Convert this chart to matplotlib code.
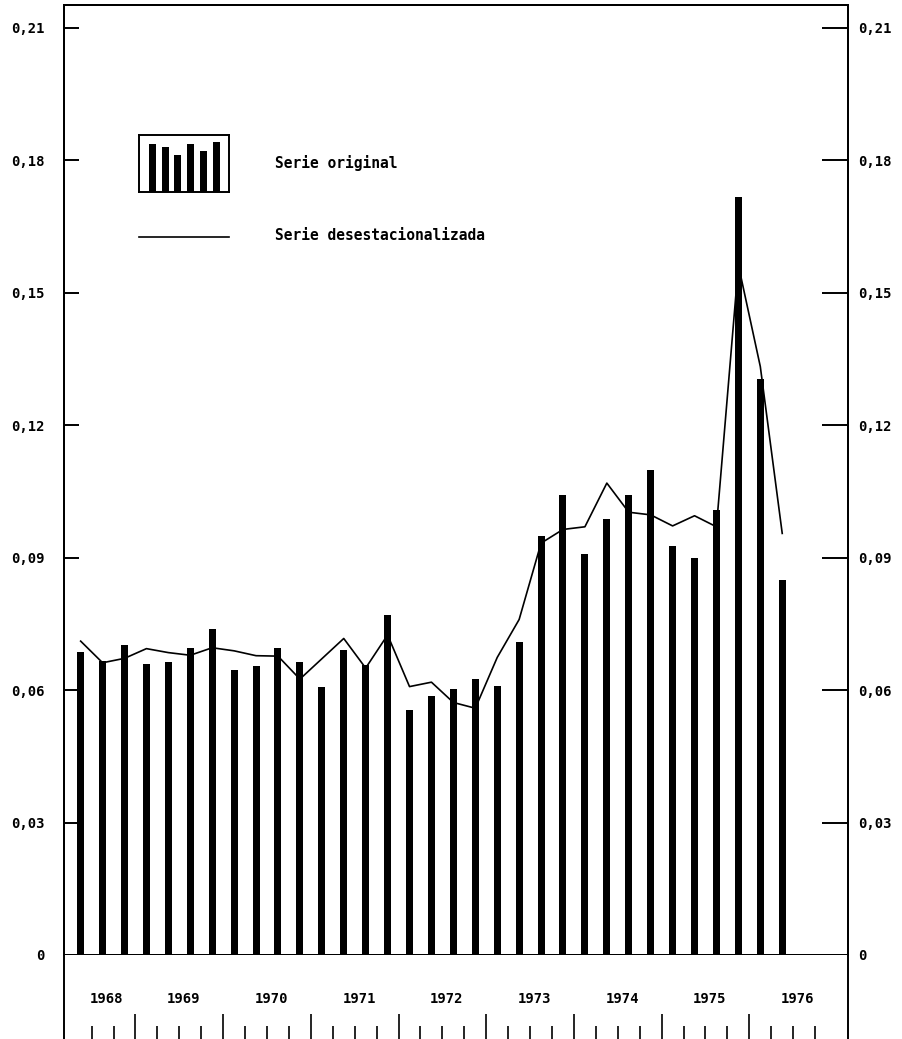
import matplotlib
matplotlib.use("Agg")
import matplotlib.pyplot as plt
import numpy as np

# Datos trimestrales (1968-II a 1976-II)
serie_original = [0.0686, 0.0666, 0.0702, 0.0660, 0.0663, 0.0695, 0.0738, 0.0646,
                  0.0655, 0.0695, 0.0663, 0.0607, 0.0690, 0.0658, 0.0770, 0.0556,
                  0.0586, 0.0603, 0.0625, 0.0609, 0.0708, 0.0949, 0.1041, 0.0908,
                  0.0988, 0.1042, 0.1099, 0.0927, 0.0899, 0.1007, 0.1718, 0.1304,
                  0.0850]
serie_desest = [0.0711, 0.0662, 0.0672, 0.0694, 0.0685, 0.0679, 0.0696, 0.0689,
                0.0678, 0.0677, 0.0625, 0.0671, 0.0717, 0.0650, 0.0725, 0.0608,
                0.0618, 0.0572, 0.0559, 0.0674, 0.0760, 0.0933, 0.0964, 0.0970,
                0.1069, 0.1003, 0.0997, 0.0972, 0.0995, 0.0970, 0.1563, 0.1333,
                0.0955]
anios = ['1968', '1969', '1970', '1971', '1972', '1973', '1974', '1975', '1976']
trimestres_por_anio = [3, 4, 4, 4, 4, 4, 4, 4, 4]
yticks = [0, 0.03, 0.06, 0.09, 0.12, 0.15, 0.18, 0.21]
ytick_labels = ['0', '0,03', '0,06', '0,09', '0,12', '0,15', '0,18', '0,21']
leyenda_barras = [0.85, 0.79, 0.65, 0.84, 0.72, 0.88]

fuente = 'DejaVu Sans Mono'
plt.rcParams['font.family'] = [fuente, 'DejaVu Sans']
plt.rcParams['font.weight'] = 'bold'

x = np.arange(len(serie_original))

fig = plt.figure(figsize=(9.03, 10.39), dpi=100)
ax = fig.add_axes([0.07087, 0.08085, 0.86822, 0.91434])

ax.bar(x, serie_original, width=0.32, color='black')
ax.plot(x, serie_desest, color='black', linewidth=1.2)

ax.set_xlim(-0.76, 35.0)
ax.set_ylim(0, 0.2152)
ax.set_xticks([])
ax.set_yticks(yticks)
ax.set_yticklabels(ytick_labels, fontsize=10)
ax.tick_params(axis='y', direction='in', length=11, width=1.4, pad=14)
for s in ax.spines.values():
    s.set_linewidth(1.4)

# eje derecho
ax_der = ax.twinx()
ax_der.set_ylim(ax.get_ylim())
ax_der.set_yticks(yticks)
ax_der.set_yticklabels(ytick_labels, fontsize=10)
ax_der.tick_params(axis='y', direction='in', length=19, width=1.4, pad=7)
for s in ax_der.spines.values():
    s.set_linewidth(1.4)

# franja inferior con los años
ax_an = fig.add_axes([0.07087, 0.0, 0.86822, 0.08085], sharex=ax)
ax_an.set_ylim(0, 84)
ax_an.set_yticks([])
ax_an.tick_params(axis='x', bottom=False, labelbottom=False)
ax_an.spines['top'].set_visible(False)
ax_an.spines['bottom'].set_visible(False)
ax_an.spines['left'].set_linewidth(1.4)
ax_an.spines['right'].set_linewidth(1.4)

inicio = -0.5
for anio, n in zip(anios, trimestres_por_anio):
    centro = inicio + n / 2
    ax_an.text(centro + 0.2, 40, anio, ha='center', va='center', fontsize=10)
    for k in range(n):
        pos = inicio + k + 1
        fin_anio = (k == n - 1)
        if fin_anio and anio == anios[-1]:
            continue
        alto = 25 if fin_anio else 13
        ax_an.vlines(pos, 0, alto, color='black', linewidth=1.2)
    inicio += n

# leyenda
ax_ley = fig.add_axes([0.1539, 0.8152, 0.0997, 0.0549])
ax_ley.bar(np.arange(len(leyenda_barras)), leyenda_barras, width=0.55, color='black')
ax_ley.set_xlim(-1.05, 6.0)
ax_ley.set_ylim(0, 1)
ax_ley.set_xticks([])
ax_ley.set_yticks([])
for s in ax_ley.spines.values():
    s.set_linewidth(1.4)

fig.text(275 / 903, 1 - 163 / 1039, 'Serie original', fontsize=10.5, va='center')
fig.lines.append(plt.Line2D([139 / 903, 229 / 903], [1 - 237 / 1039, 1 - 237 / 1039],
                            transform=fig.transFigure, color='black', linewidth=1.2))
fig.text(275 / 903, 1 - 235 / 1039, 'Serie desestacionalizada', fontsize=10.5, va='center')

fig.savefig('out.png', dpi=100)
